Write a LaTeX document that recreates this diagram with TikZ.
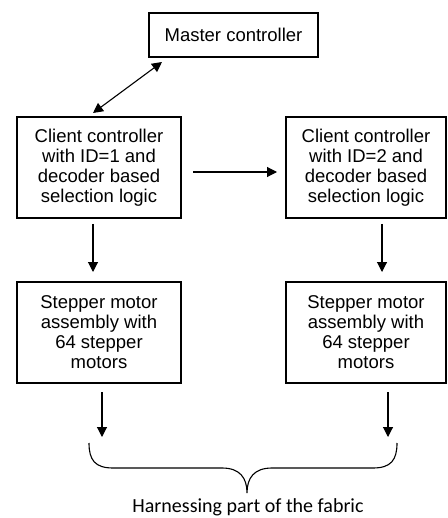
\documentclass[tikz,border=0pt]{standalone}
\usepackage{fontspec}
\setmainfont{Liberation Sans}
\newfontfamily\capfont{Carlito}
\usetikzlibrary{arrows.meta}
\begin{document}
\begin{tikzpicture}[x=1pt,y=-1pt,
  blk/.style={draw, line width=1.3pt, align=center, inner sep=0pt,
    font=\fontsize{18.5}{20}\selectfont},
  arr/.style={line width=1.1pt, -{Triangle[length=10pt,width=10pt]}},
  darr/.style={line width=1.1pt, {Triangle[length=10pt,width=10pt]}-{Triangle[length=10pt,width=10pt]}}]
\useasboundingbox (0,0) rectangle (447,518);
\node[blk, minimum width=169pt, minimum height=44pt] (m) at (233.5,35) {Master controller};
\node[blk, minimum width=164pt, minimum height=101pt] (c1) at (99,167.5) {Client controller\\with ID=1 and\\decoder based\\selection logic};
\node[blk, minimum width=160pt, minimum height=101pt] (c2) at (366,167.5) {Client controller\\with ID=2 and\\decoder based\\selection logic};
\node[blk, minimum width=164pt, minimum height=101pt] (s1) at (99,332.5) {Stepper motor\\assembly with\\64 stepper\\motors};
\node[blk, minimum width=160pt, minimum height=101pt] (s2) at (366,332.5) {Stepper motor\\assembly with\\64 stepper\\motors};
\coordinate (d1a) at (93,113);
\coordinate (d1b) at (162,62);
\draw[darr] (d1a) -- (d1b);
\coordinate (h1) at (193,172);
\coordinate (h2) at (277,172);
\draw[arr] (h1) -- (h2);
\coordinate (v1a) at (93,224);
\coordinate (v1b) at (93,272);
\draw[arr] (v1a) -- (v1b);
\coordinate (v2a) at (382,224);
\coordinate (v2b) at (382,272);
\draw[arr] (v2a) -- (v2b);
\coordinate (w1a) at (102,392);
\coordinate (w1b) at (102,437);
\draw[arr] (w1a) -- (w1b);
\coordinate (w2a) at (388,392);
\coordinate (w2b) at (388,437);
\draw[arr] (w2a) -- (w2b);
\coordinate (bl) at (89,443);
\coordinate (br) at (397,443);
\coordinate (bt) at (247,493);
\draw[line width=1.1pt] (bl) .. controls (89,460) and (95,468) .. (113,468)
  -- (222,468) .. controls (240,468) and (247,478) .. (bt)
  .. controls (247,478) and (254,468) .. (272,468)
  -- (373,468) .. controls (391,468) and (397,460) .. (br);
\node[anchor=base, inner sep=0pt, font=\capfont\fontsize{20}{22}\selectfont] (cap) at (248,512) {Harnessing part of the fabric};
\end{tikzpicture}
\end{document}
